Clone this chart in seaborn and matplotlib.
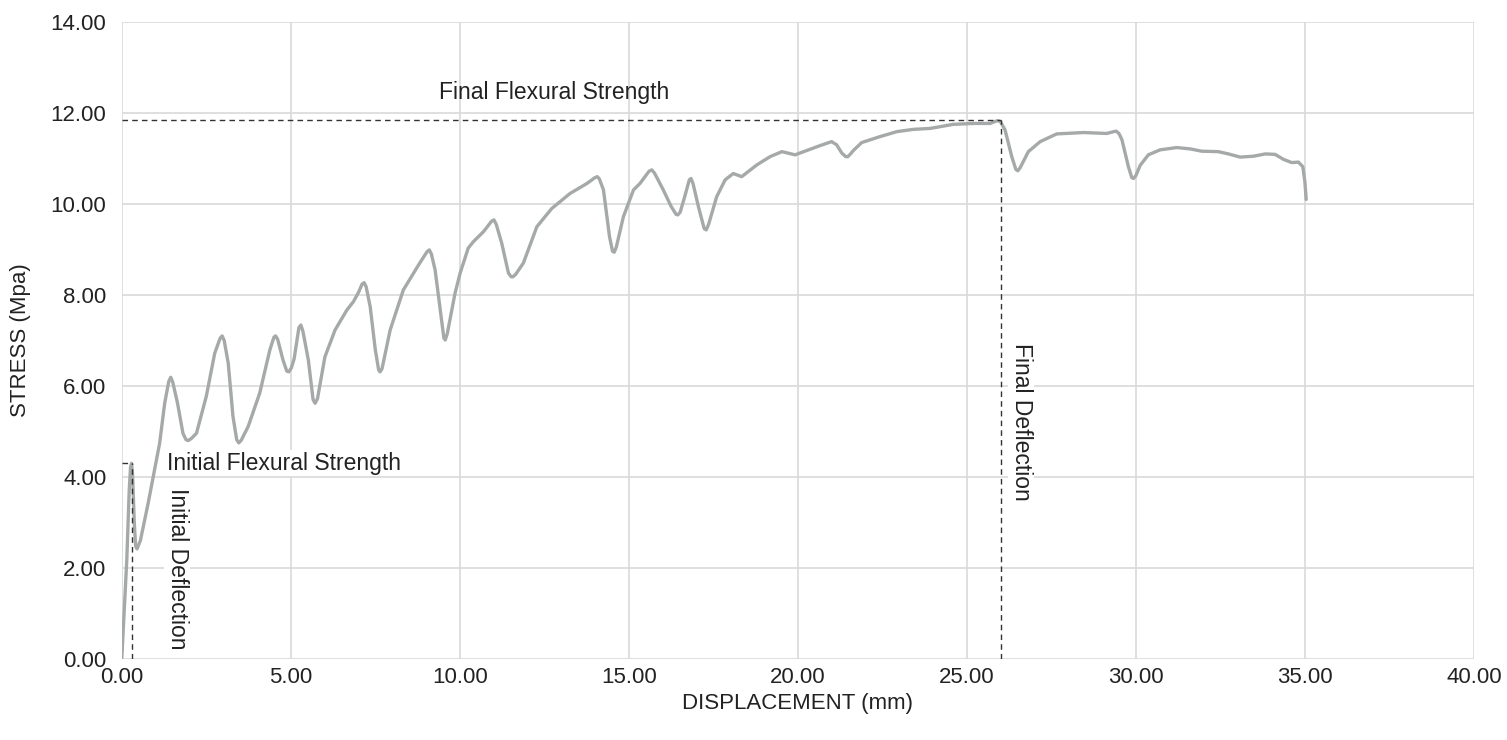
import matplotlib
matplotlib.use('Agg')
import matplotlib.pyplot as plt
import seaborn as sns
import pandas as pd

# ── data ──────────────────────────────────────────────────────────────────────
displacement = [0.00, 0.15, 0.22, 0.26, 0.29, 0.32, 0.37, 0.41, 0.45, 0.55, 0.78,
                1.12, 1.27, 1.39, 1.45, 1.51, 1.65, 1.81, 1.90, 1.96, 2.05, 2.21,
                2.50, 2.75, 2.91, 2.97, 3.03, 3.15, 3.29, 3.40, 3.46, 3.53, 3.74,
                4.08, 4.38, 4.50, 4.55, 4.61, 4.77, 4.88, 4.94, 5.02, 5.10, 5.24,
                5.30, 5.36, 5.52, 5.66, 5.72, 5.79, 6.01, 6.31, 6.66, 6.85, 7.00,
                7.11, 7.17, 7.23, 7.35, 7.50, 7.60, 7.64, 7.70, 7.94, 8.33, 8.78,
                9.03, 9.10, 9.16, 9.27, 9.45, 9.53, 9.57, 9.63, 9.86, 10.01, 10.25,
                10.40, 10.70, 10.94, 11.01, 11.08, 11.24, 11.44, 11.52, 11.57,
                11.65, 11.88, 12.28, 12.72, 13.26, 13.76, 14.00, 14.07, 14.13,
                14.25, 14.43, 14.52, 14.57, 14.63, 14.84, 15.14, 15.33, 15.60,
                15.68, 15.76, 16.02, 16.25, 16.40, 16.45, 16.52, 16.65, 16.79,
                16.84, 16.90, 17.06, 17.23, 17.29, 17.36, 17.60, 17.85, 18.09,
                18.34, 18.79, 19.18, 19.53, 19.92, 20.36, 20.61, 21.00, 21.15,
                21.30, 21.42, 21.48, 21.56, 21.65, 21.89, 22.43, 22.93, 23.42,
                23.91, 24.60, 25.20, 25.69, 25.86, 25.93, 26.00, 26.13, 26.33,
                26.45, 26.51, 26.58, 26.82, 27.17, 27.66, 28.45, 29.14, 29.35,
                29.42, 29.50, 29.59, 29.78, 29.88, 29.93, 30.00, 30.13, 30.37,
                30.72, 31.21, 31.61, 31.95, 32.44, 32.74, 33.09, 33.48, 33.83,
                34.12, 34.37, 34.61, 34.81, 34.94, 35.00, 35.04]
stress = [0.00, 2.20, 3.70, 4.22, 4.30, 4.05, 3.00, 2.48, 2.42, 2.60, 3.42,
          4.74, 5.62, 6.10, 6.19, 6.08, 5.62, 4.96, 4.82, 4.80, 4.84, 4.96,
          5.77, 6.72, 7.05, 7.10, 7.00, 6.50, 5.33, 4.82, 4.75, 4.80, 5.11,
          5.84, 6.79, 7.07, 7.10, 7.03, 6.57, 6.33, 6.31, 6.40, 6.60, 7.28,
          7.34, 7.20, 6.57, 5.70, 5.62, 5.72, 6.64, 7.23, 7.67, 7.85, 8.05,
          8.24, 8.27, 8.18, 7.74, 6.80, 6.35, 6.31, 6.38, 7.23, 8.11, 8.66,
          8.95, 8.99, 8.90, 8.55, 7.50, 7.05, 7.01, 7.15, 8.04, 8.48, 9.03,
          9.17, 9.39, 9.62, 9.65, 9.55, 9.14, 8.48, 8.40, 8.40,
          8.45, 8.70, 9.50, 9.90, 10.23, 10.45, 10.58, 10.60, 10.55,
          10.31, 9.28, 8.96, 8.94, 9.05, 9.72, 10.31, 10.45, 10.72,
          10.75, 10.68, 10.31, 9.95, 9.77, 9.76, 9.82, 10.15, 10.53,
          10.56, 10.45, 9.94, 9.46, 9.43, 9.55, 10.16, 10.53, 10.67,
          10.60, 10.86, 11.04, 11.15, 11.08, 11.20, 11.27, 11.37, 11.30,
          11.12, 11.04, 11.04, 11.10, 11.18, 11.35, 11.48, 11.59, 11.64,
          11.66, 11.75, 11.77, 11.77, 11.82, 11.83, 11.80, 11.63, 11.04,
          10.76, 10.73, 10.80, 11.15, 11.37, 11.54, 11.57, 11.55, 11.59,
          11.60, 11.55, 11.41, 10.82, 10.58, 10.56, 10.62, 10.85, 11.08,
          11.19, 11.24, 11.21, 11.16, 11.15, 11.10, 11.03, 11.05, 11.10,
          11.09, 10.98, 10.91, 10.92, 10.82, 10.50, 10.10]

init_defl, init_strength = 0.30, 4.31
final_defl, final_strength = 26.0, 11.85

x_ticks = [0, 5, 10, 15, 20, 25, 30, 35, 40]
y_ticks = [0, 2, 4, 6, 8, 10, 12, 14]

df = pd.DataFrame({'disp': displacement, 'stress': stress})

# ── figure ────────────────────────────────────────────────────────────────────
sns.set_style('white')
plt.rcParams['font.family'] = ['Liberation Sans', 'DejaVu Sans']

fig = plt.figure(figsize=(15.07, 7.40), dpi=100)
ax = fig.add_axes([0.0808, 0.1095, 0.8972, 0.8608])

sns.lineplot(data=df, x='disp', y='stress', ax=ax, sort=False, estimator=None,
             color='#a6a9a9', lw=2.4, zorder=3,
             solid_joinstyle='round', solid_capstyle='round')

# reference lines
dash = dict(color='#333333', lw=1.0, ls=(0, (4, 3)), zorder=4)
ax.plot([0, final_defl], [final_strength, final_strength], **dash)
ax.plot([final_defl, final_defl], [0, final_strength], **dash)
ax.plot([0, init_defl], [init_strength, init_strength], **dash)
ax.plot([init_defl, init_defl], [0, init_strength], **dash)

txt = dict(fontsize=16.5, color='#222222', zorder=5)
box = dict(facecolor='white', edgecolor='none', pad=1)
ax.text(12.79, 12.46, 'Final Flexural Strength', ha='center', va='center', **txt)
ax.text(1.34, 4.3, 'Initial Flexural Strength', ha='left', va='center',
        bbox=box, **txt)
ax.text(1.64, 1.98, 'Initial Deflection', rotation=270, ha='center',
        va='center', bbox=box, **txt)
ax.text(26.61, 5.21, 'Final Deflection', rotation=270, ha='center',
        va='center', bbox=box, **txt)

ax.set_xlim(0, 40)
ax.set_ylim(0, 14)
ax.set_xticks(x_ticks)
ax.set_yticks(y_ticks)
ax.set_xticklabels([f'{v:.2f}' for v in x_ticks])
ax.set_yticklabels([f'{v:.2f}' for v in y_ticks])
ax.tick_params(axis='both', length=0, labelsize=16, colors='#222222')
ax.tick_params(axis='x', pad=6)
ax.tick_params(axis='y', pad=11)

ax.grid(True, color='#d9d9d9', lw=1.2, zorder=0)
ax.set_axisbelow(True)
for side in ['top', 'right', 'bottom', 'left']:
    ax.spines[side].set_visible(False)

ax.set_xlabel('DISPLACEMENT (mm)', fontsize=16, color='#222222')
ax.set_ylabel('STRESS (Mpa)', fontsize=16, color='#222222')
ax.xaxis.set_label_coords(0.5, -0.054)
ax.yaxis.set_label_coords(-0.067, 0.5)

fig.savefig('out.png', dpi=100)
